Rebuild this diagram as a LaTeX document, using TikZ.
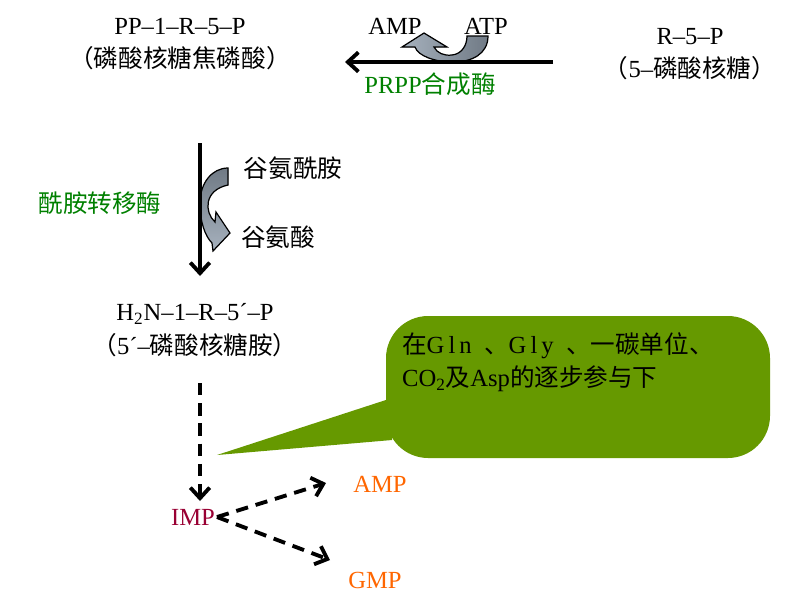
\documentclass[tikz,border=0pt]{standalone}
\usepackage{fontspec}
\setmainfont{Liberation Serif}
\newfontfamily\cjk{Noto Sans CJK SC}
\usetikzlibrary{arrows.meta}
\definecolor{enzgreen}{RGB}{0,128,0}
\definecolor{notegreen}{RGB}{102,153,0}
\definecolor{impred}{RGB}{153,0,51}
\definecolor{ntorange}{RGB}{255,102,0}
\definecolor{bandlight}{RGB}{166,177,189}
\definecolor{banddark}{RGB}{112,122,133}
\tikzset{
  lbl/.style={font=\fontsize{14}{19}\selectfont, align=center, inner sep=1pt},
  enz/.style={lbl, text=enzgreen},
  flow/.style={line width=2.2pt, -{Straight Barb[length=6pt,width=11pt]}},
  dflow/.style={flow, dash pattern=on 7pt off 4.5pt},
  band/.style={draw=black, line width=0.7pt},
}

\begin{document}
\begin{tikzpicture}[>=Latex, x=0.02cm, y=-0.02cm]
\useasboundingbox (0,0) rectangle (801,600);
% substrates
\node[lbl] (prpp) at (180,44) {PP–1–R–5–P\\{\cjk （磷酸核糖焦磷酸）}};
\node[lbl] (r5p) at (690,54) {R–5–P\\{\cjk （}5–{\cjk 磷酸核糖）}};
% step 1
\filldraw[band, left color=bandlight, right color=banddark]
  (488,36) .. controls (488,54) and (472,62) .. (453,62)
  .. controls (435,62) and (418,56) .. (415,47) -- (402,47) -- (424,33)
  -- (447,47) -- (434,47) .. controls (437,53) and (444,56) .. (452,55)
  .. controls (462,54) and (467,45) .. (467,36) -- cycle;
\coordinate (hstart) at (553,62);
\coordinate (hend) at (345,62);
\draw[flow] (hstart) -- (hend);
\node[lbl] (atp) at (486,26) {ATP};
\node[lbl] (amp1) at (395,26) {AMP};
\node[enz] (prs) at (430,84) {PRPP{\cjk 合成酶}};
% step 2
\filldraw[band, top color=banddark, bottom color=bandlight]
  (228,168) .. controls (212,168) and (200,183) .. (200,203)
  .. controls (200,222) and (205,236) .. (212,243) -- (213,251) -- (230,233)
  -- (216,212) -- (215,222) .. controls (204,212) and (204,190) .. (228,185) -- cycle;
\coordinate (vtop) at (200,143);
\coordinate (vbot) at (200,276);
\draw[flow] (vtop) -- (vbot);
\node[lbl] (gln) at (293,168) {\cjk 谷氨酰胺};
\node[lbl] (glu) at (278,237) {\cjk 谷氨酸};
\node[enz] (atase) at (100,203) {\cjk 酰胺转移酶};
\node[lbl] (pra) at (195,330) {H\textsubscript{2}N–1–R–5´–P\\{\cjk （}5´–{\cjk 磷酸核糖胺）}};
% note
\fill[notegreen] (217,455) -- (392,398) -- (392,440) -- cycle;
\fill[notegreen, rounded corners=24] (386,316) rectangle (770,458);
\node[lbl, align=left, anchor=west] (note) at (400,362)
  {{\cjk 在}G\,l\,n\ \ {\cjk 、}G\,l\,y\ \ {\cjk 、一碳单位、}\\CO\textsubscript{2}{\cjk 及}Asp{\cjk 的逐步参与下}};
% IMP
\coordinate (dtop) at (200,383);
\coordinate (dbot) at (200,501);
\draw[dflow] (dtop) -- (dbot);
\node[lbl, text=impred] (imp) at (193,517) {IMP};
\node[lbl, text=ntorange] (amp) at (380,484) {AMP};
\node[lbl, text=ntorange] (gmp) at (375,580) {GMP};
\coordinate (toamp) at (326,483);
\coordinate (togmp) at (330,560);
\draw[dflow] (imp.east) -- (toamp);
\draw[dflow] (imp.east) -- (togmp);
\end{tikzpicture}
\end{document}
